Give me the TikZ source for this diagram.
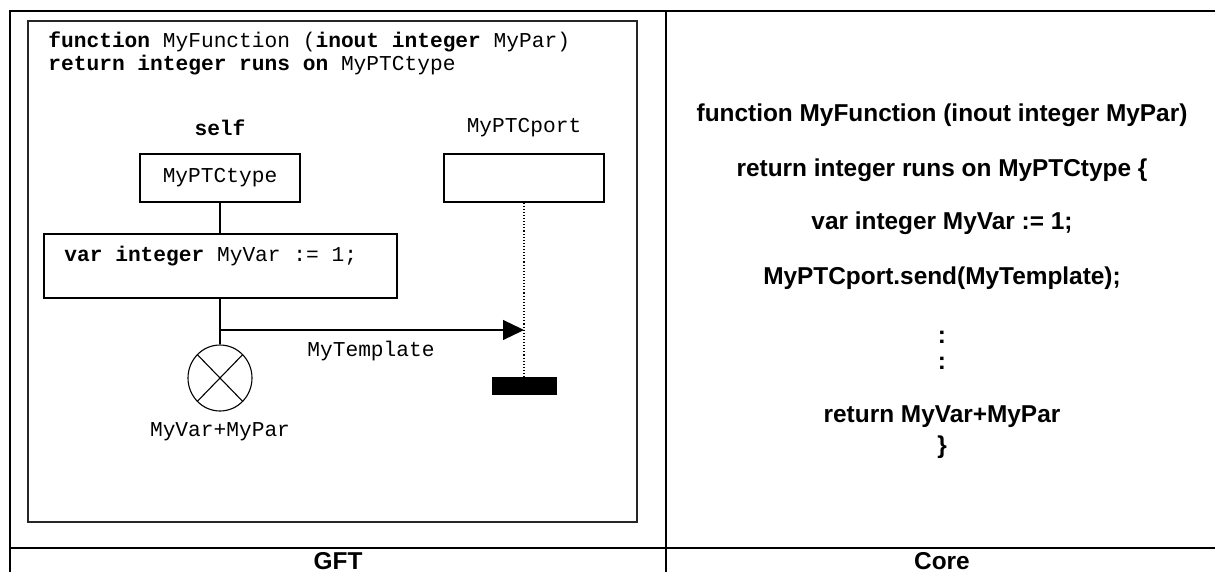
\documentclass[tikz,border=0pt]{standalone}
\usepackage{fontspec}
\setmainfont{Liberation Sans}
\setmonofont{Liberation Mono}
\usetikzlibrary{arrows.meta,shapes.geometric}

\tikzset{
  gft/.style={font=\ttfamily\fontsize{10.6}{12}\selectfont, inner sep=0pt},
  core/.style={font=\bfseries\fontsize{12.2}{14}\selectfont, inner sep=0pt},
  instbox/.style={draw, line width=0.55pt, minimum width=80pt, minimum height=24pt, gft},
}

\begin{document}
\begin{tikzpicture}[x=0.5pt, y=-0.5pt]
    \useasboundingbox (0,0) rectangle (1215,572);
    % table
    \draw[line width=0.8pt] (10,572) -- (10,11) -- (1215,11);
    \draw[line width=0.8pt] (666,11) -- (666,572);
    \draw[line width=0.8pt] (10,548) -- (1215,548);
    \node[core] (gft) at (338,561) {GFT};
    \node[core] (core) at (942,561) {Core};
    % GFT side
    \draw[line width=0.6pt, black!85] (28,21) rectangle (637,522);
    \node[gft, anchor=west] (head1) at (48,42) {\textbf{function} MyFunction (\textbf{inout integer} MyPar)};
    \node[gft, anchor=west] (head2) at (48,65) {\textbf{return integer runs on} MyPTCtype};
    \node[gft] (self) at (220,128) {\textbf{self}};
    \node[gft] (portname) at (524,128) {MyPTCport};
    \node[instbox] (ptc) at (220,178) {MyPTCtype};
    \node[instbox] (port) at (524,178) {};
    \node[draw, line width=0.55pt, minimum width=176.5pt, minimum height=32pt] (varbox) at (220.5,266) {};
    \node[gft, anchor=west] (vartext) at (64,256) {\textbf{var integer} MyVar := 1;};
    \node[draw, ellipse, minimum width=32pt, minimum height=33pt, inner sep=0pt, line width=0.55pt] (ret) at (220,378) {};
    \draw[line width=0.55pt] (ret.north west) -- (ret.south east) (ret.north east) -- (ret.south west);
    \node[fill, minimum width=32.5pt, minimum height=9pt, inner sep=0pt] (stop) at (524.5,386) {};
    \draw[line width=0.55pt] (ptc.south) -- (ptc.south |- varbox.north);
    \draw[line width=0.55pt] (varbox.south -| ret.north) -- (ret.north);
    \draw[line width=0.55pt, dash pattern=on 0.55pt off 1pt] (port.south) -- (port.south |- stop.north);
    \coordinate (fork) at (220,330);
    \draw[line width=0.6pt, -{Triangle[length=10.5pt,width=10pt]}] (fork) -- (fork -| port.south);
    \node[gft] (tmpl) at (371,351) {MyTemplate};
    \node[gft] (retval) at (220,432) {MyVar+MyPar};
    % Core side
    \node[core] (c1) at (942,115) {function MyFunction (inout integer MyPar)};
    \node[core] (c2) at (942,170) {return integer runs on MyPTCtype \{};
    \node[core] (c3) at (942,223) {var integer MyVar := 1;};
    \node[core] (c4) at (942,278) {MyPTCport.send(MyTemplate);};
    \node[core] (c5) at (942,337) {:};
    \node[core] (c6) at (942,363) {:};
    \node[core] (c7) at (942,417) {return MyVar+MyPar};
    \node[core] (c8) at (942,447) {\}};
\end{tikzpicture}
\end{document}
